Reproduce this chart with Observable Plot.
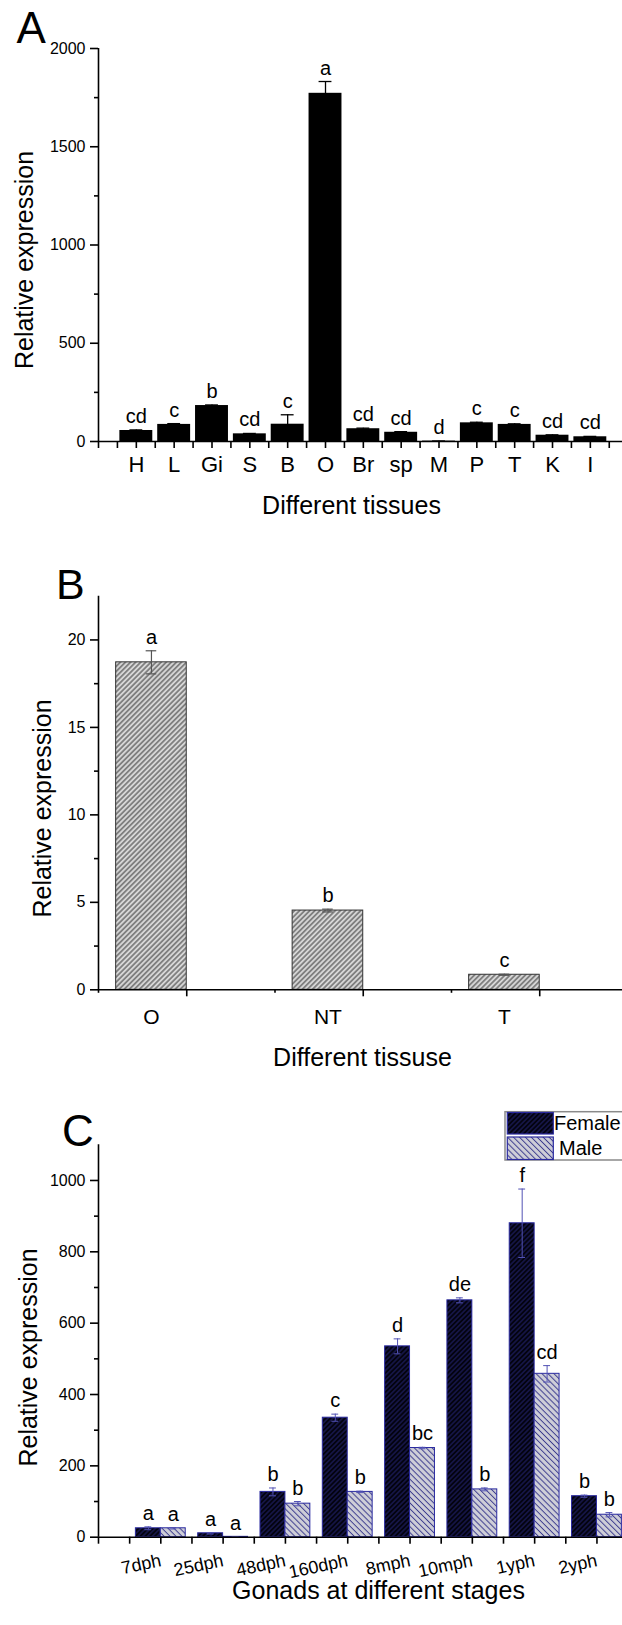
<!DOCTYPE html>
<html><head><meta charset="utf-8">
<script src="https://cdn.jsdelivr.net/npm/d3@7"></script>
<script src="https://cdn.jsdelivr.net/npm/@observablehq/plot@0.6"></script>
<style>
html,body{margin:0;padding:0;background:#fff;overflow:hidden;}
#wrap{width:622px;}
#wrap svg{display:block;}
</style></head><body><div id="wrap"></div>
<script>
// ---------- Panel A: different tissues ----------
const tissuesA = ["H","L","Gi","S","B","O","Br","sp","M","P","T","K","I"];
const valuesA = [56,87,183,39,88,1772,65,47,2,95,87,32,24];
const errorsA = [3,4,3,2,48,60,3,3,0.5,3,3,2,2];
const lettersA = ["cd","c","b","cd","c","a","cd","cd","d","c","c","cd","cd"];
const ticksA = [0,500,1000,1500,2000];
// ---------- Panel B ----------
const tissuesB = ["O","NT","T"];
const valuesB = [18.72,4.53,0.86];
const errorsB = [0.66,0.08,0.03];
const lettersB = ["a","b","c"];
const ticksB = [0,5,10,15,20];
// ---------- Panel C: gonads at different stages ----------
const stagesC = ["7dph","25dph","48dph","160dph","8mph","10mph","1yph","2yph"];
const seriesC = ["Female","Male"];
const femaleC = [25,11,127,335,535,664,880,115];
const femaleErrC = [4,2,11,10,21,7,96,3];
const maleC = [25,1,94,127,250,134,458,63];
const maleErrC = [2,0,6,2,2,4,23,6];
const femaleLettersC = ["a","a","b","c","d","de","f","b"];
const maleLettersC = ["a","a","b","b","bc","b","cd","b"];
const ticksC = [0,200,400,600,800,1000];

const FONT = "'Liberation Sans', Arial, Helvetica, sans-serif";
const baseStyle = {fontFamily: FONT, color: "#000", background: "#fff"};
const AX = 1.6;
const TF = 16;
const fmt = d => String(d);

function addPattern(svg, id, bg, line, size, angle, lw) {
  let defs = d3.select(svg).select("defs");
  if (defs.empty()) defs = d3.select(svg).insert("defs", ":first-child");
  const p = defs.append("pattern").attr("id", id).attr("patternUnits", "userSpaceOnUse")
    .attr("width", size).attr("height", size).attr("patternTransform", `rotate(${angle})`);
  p.append("rect").attr("width", size).attr("height", size).attr("fill", bg);
  p.append("line").attr("x1", size / 2).attr("y1", -1).attr("x2", size / 2).attr("y2", size + 1)
    .attr("stroke", line).attr("stroke-width", lw);
}

// ---------- A ----------
const rowsA = tissuesA.map((t, i) => ({t, pos: i + 1, v: valuesA[i], e: errorsA[i], l: lettersA[i]}));
const plotA = Plot.plot({
  width: 622, height: 556, marginTop: 48, marginBottom: 115, marginLeft: 98, marginRight: 0,
  style: baseStyle,
  x: {type: "linear", domain: [0, 13.85]},
  y: {domain: [0, 2000]},
  marks: [
    Plot.rectY(rowsA, {x1: d => d.pos - 0.435, x2: d => d.pos + 0.435, y1: 0, y2: "v", fill: "#000"}),
    Plot.ruleX(rowsA, {x: "pos", y1: d => Math.max(0, d.v - d.e), y2: d => d.v + d.e, stroke: "#000", strokeWidth: 1.3}),
    Plot.ruleY(rowsA, {y: d => d.v + d.e, x1: d => d.pos - 0.17, x2: d => d.pos + 0.17, stroke: "#000", strokeWidth: 1.3}),
    Plot.text(rowsA, {x: "pos", y: d => d.v + d.e, text: "l", dy: -7, lineAnchor: "bottom", fontSize: 20}),
    Plot.ruleX([0], {strokeWidth: AX}),
    Plot.ruleY([0], {strokeWidth: AX}),
    Plot.axisY({ticks: ticksA, tickSize: 8, tickPadding: 5, tickFormat: fmt, fontSize: TF, strokeWidth: AX, label: null}),
    Plot.axisY({ticks: d3.range(250, 2000, 500), tickSize: 4, tickFormat: () => "", strokeWidth: AX, label: null}),
    Plot.axisX({ticks: d3.range(0, 14, 0.5), tickSize: 7, tickFormat: () => "", strokeWidth: AX, label: null}),
    Plot.axisX({ticks: rowsA.map(d => d.pos), tickSize: 0, tickPadding: 15, tickFormat: i => tissuesA[i - 1], fontSize: 22, label: null}),
    Plot.text(["Different tissues"], {frameAnchor: "bottom", dx: -9, dy: 72, lineAnchor: "bottom", fontSize: 25}),
    Plot.text(["Relative expression"], {frameAnchor: "left", dx: -66, dy: 15, rotate: -90, textAnchor: "middle", lineAnchor: "bottom", fontSize: 25}),
    Plot.text(["A"], {frameAnchor: "top-left", dx: -82, dy: -6, textAnchor: "start", lineAnchor: "bottom", fontSize: 44})
  ]
});

// ---------- B ----------
const rowsB = tissuesB.map((t, i) => ({t, pos: i + 1, v: valuesB[i], e: errorsB[i], l: lettersB[i]}));
const plotB = Plot.plot({
  width: 622, height: 534, marginTop: 39.7, marginBottom: 100.7, marginLeft: 98, marginRight: 0,
  style: baseStyle,
  x: {type: "linear", domain: [0.70, 3.669]},
  y: {domain: [0, 22.5]},
  marks: [
    Plot.rectY(rowsB, {x1: d => d.pos - 0.2, x2: d => d.pos + 0.2, y1: 0, y2: "v", fill: "url(#hatchB)", stroke: "#333", strokeWidth: 1}),
    Plot.ruleX(rowsB, {x: "pos", y1: d => d.v - d.e, y2: d => d.v + d.e, stroke: "#555", strokeWidth: 1.2}),
    Plot.ruleY(rowsB, {y: d => d.v + d.e, x1: d => d.pos - 0.03, x2: d => d.pos + 0.03, stroke: "#555", strokeWidth: 1.2}),
    Plot.ruleY(rowsB, {y: d => d.v - d.e, x1: d => d.pos - 0.03, x2: d => d.pos + 0.03, stroke: "#555", strokeWidth: 1.2}),
    Plot.text(rowsB, {x: "pos", y: d => d.v + d.e, text: "l", dy: -7, lineAnchor: "bottom", fontSize: 20}),
    Plot.ruleX([0.70], {strokeWidth: AX}),
    Plot.ruleY([0], {strokeWidth: AX}),
    Plot.axisY({ticks: ticksB, tickSize: 8, tickPadding: 5, tickFormat: fmt, fontSize: TF, strokeWidth: AX, label: null}),
    Plot.axisY({ticks: d3.range(2.5, 22.5, 5), tickSize: 4, tickFormat: () => "", strokeWidth: AX, label: null}),
    Plot.axisX({ticks: [1.2, 2.2, 3.2], tickSize: 7, tickFormat: () => "", strokeWidth: AX, label: null}),
    Plot.axisX({ticks: [0.7, 1.7, 2.7], tickSize: 3.5, tickFormat: () => "", strokeWidth: AX, label: null}),
    Plot.axisX({ticks: rowsB.map(d => d.pos), tickSize: 0, tickPadding: 19, tickFormat: i => tissuesB[i - 1], fontSize: 21, label: null}),
    Plot.text(["Different tissuse"], {frameAnchor: "bottom", dx: 2, dy: 75.7, lineAnchor: "bottom", fontSize: 25}),
    Plot.text(["Relative expression"], {frameAnchor: "left", dx: -48, dy: 15.5, rotate: -90, textAnchor: "middle", lineAnchor: "bottom", fontSize: 25}),
    Plot.text(["B"], {frameAnchor: "top-left", dx: -42.5, dy: 2.3, textAnchor: "start", lineAnchor: "bottom", fontSize: 43})
  ]
});
addPattern(plotB, "hatchB", "#d6d6d6", "#3a3a3a", 3.6, 45, 1);

// ---------- C ----------
const rowsF = stagesC.map((s, i) => ({s, series: seriesC[0], pos: i + 1 - 0.2, v: femaleC[i], e: femaleErrC[i], l: femaleLettersC[i]}));
const rowsM = stagesC.map((s, i) => ({s, series: seriesC[1], pos: i + 1 + 0.2, v: maleC[i], e: maleErrC[i], l: maleLettersC[i]}));
const rowsC = rowsF.concat(rowsM);
const EC = "#5252b4";
const plotC = Plot.plot({
  width: 622, height: 535, marginTop: 54.3, marginBottom: 88.3, marginLeft: 98, marginRight: 0,
  style: baseStyle,
  x: {type: "linear", domain: [0, 8.41]},
  y: {domain: [0, 1100]},
  marks: [
    Plot.rectY(rowsF, {x1: d => d.pos - 0.2, x2: d => d.pos + 0.2, y1: 0, y2: "v", fill: "url(#hatchF)", stroke: "#2a2aa0", strokeWidth: 1}),
    Plot.rectY(rowsM, {x1: d => d.pos - 0.2, x2: d => d.pos + 0.2, y1: 0, y2: "v", fill: "url(#hatchM)", stroke: "#2a2aa0", strokeWidth: 1}),
    Plot.ruleX(rowsC, {x: "pos", y1: d => Math.max(0, d.v - d.e), y2: d => d.v + d.e, stroke: EC, strokeWidth: 1}),
    Plot.ruleY(rowsC, {y: d => d.v + d.e, x1: d => d.pos - 0.055, x2: d => d.pos + 0.055, stroke: EC, strokeWidth: 1}),
    Plot.ruleY(rowsC.filter(d => d.v - d.e > 0), {y: d => d.v - d.e, x1: d => d.pos - 0.055, x2: d => d.pos + 0.055, stroke: EC, strokeWidth: 1}),
    Plot.text(rowsC, {x: "pos", y: d => d.v + d.e, text: "l", dy: -7, lineAnchor: "bottom", fontSize: 20}),
    Plot.ruleX([0], {strokeWidth: AX}),
    Plot.ruleY([0], {strokeWidth: AX}),
    Plot.axisY({ticks: ticksC, tickSize: 8, tickPadding: 5, tickFormat: fmt, fontSize: TF, strokeWidth: AX, label: null}),
    Plot.axisY({ticks: d3.range(100, 1100, 200), tickSize: 4, tickFormat: () => "", strokeWidth: AX, label: null}),
    Plot.axisX({ticks: d3.range(0, 8.5, 0.5), tickSize: 7, tickFormat: () => "", strokeWidth: AX, label: null}),
    Plot.axisX({ticks: stagesC.map((s, i) => i + 1), tickSize: 0, tickPadding: 23, tickRotate: -12, textAnchor: "end", lineAnchor: "middle",
      tickFormat: i => stagesC[i - 1], fontSize: 18, label: null}),
    Plot.text(["Gonads at different stages"], {frameAnchor: "bottom", dx: 18, dy: 62, lineAnchor: "bottom", fontSize: 25}),
    Plot.text(["Relative expression"], {frameAnchor: "left", dx: -62, dy: 16.5, rotate: -90, textAnchor: "middle", lineAnchor: "bottom", fontSize: 25}),
    Plot.text(["C"], {frameAnchor: "top-left", dx: -36.5, dy: 0.7, textAnchor: "start", lineAnchor: "bottom", fontSize: 44})
  ]
});
addPattern(plotC, "hatchF", "#03030f", "#1e1e62", 3.4, 45, 1.1);
addPattern(plotC, "hatchM", "#cfcfd8", "#3c3c8e", 4.2, -45, 1);

// legend (inside panel C)
const lg = d3.select(plotC).append("g").attr("font-family", FONT).attr("font-size", 20).attr("text-anchor", "start");
lg.append("rect").attr("x", 505).attr("y", 21.7).attr("width", 140).attr("height", 48.3)
  .attr("fill", "#fff").attr("stroke", "#8a8a8a").attr("stroke-width", 1.5);
lg.append("rect").attr("x", 507.3).attr("y", 22.5).attr("width", 46).attr("height", 21.5)
  .attr("fill", "url(#hatchF)").attr("stroke", "#2a2aa0").attr("stroke-width", 1.2);
lg.append("rect").attr("x", 507.3).attr("y", 47).attr("width", 46).attr("height", 22.5)
  .attr("fill", "url(#hatchM)").attr("stroke", "#2a2aa0").attr("stroke-width", 1.2);
lg.append("text").attr("x", 554).attr("y", 39.5).attr("text-anchor", "start").text(seriesC[0]);
lg.append("text").attr("x", 559).attr("y", 65).attr("text-anchor", "start").text(seriesC[1]);

const wrap = document.getElementById("wrap");
wrap.append(plotA, plotB, plotC);
</script>
</body></html>
